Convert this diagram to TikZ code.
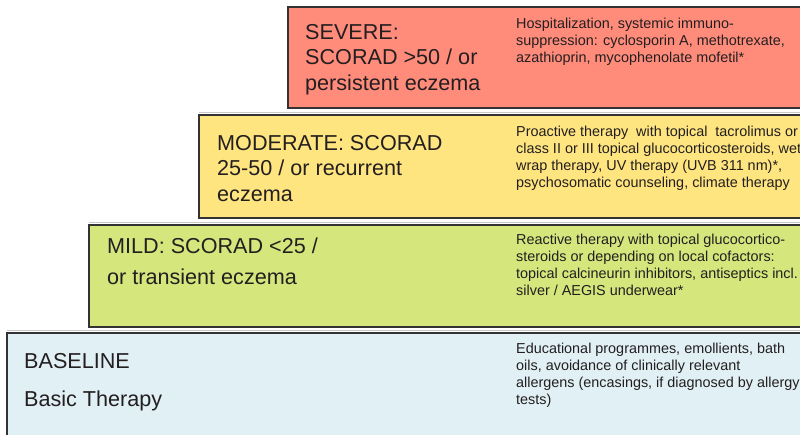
\documentclass[tikz,border=0pt]{standalone}
\usepackage{fontspec}
\setmainfont{Liberation Sans}
\definecolor{sevfill}{HTML}{FF8B7B}
\definecolor{modfill}{HTML}{FFE57F}
\definecolor{mildfill}{HTML}{D4E67C}
\definecolor{basefill}{HTML}{E1F0F4}
\definecolor{edge}{HTML}{333333}
\definecolor{shade}{HTML}{C8C8C8}
\definecolor{ink}{HTML}{231F20}
\tikzset{
  level/.style={draw=edge, line width=1.6pt},
  topshade/.style={draw=shade, line width=1pt},
  bigtext/.style={anchor=north west, inner sep=0pt, align=left, text=ink,
    font=\fontsize{21.6}{25.5}\selectfont},
  smalltext/.style={anchor=north west, inner sep=0pt, align=left, text=ink,
    font=\fontsize{14.4}{17.2}\selectfont},
}
\begin{document}
\begin{tikzpicture}[x=1pt,y=-1pt]
\useasboundingbox (0,0) rectangle (800,434);
\clip (0,0) rectangle (800,434);
% boxes
\draw[level, fill=sevfill] (288,7) rectangle (820,108);
\draw[topshade] (199,112) -- (820,112);
\draw[level, fill=modfill] (199,115) rectangle (820,218);
\draw[topshade] (89,222) -- (820,222);
\draw[level, fill=mildfill] (89,225) rectangle (820,327);
\draw[topshade] (7,330) -- (820,330);
\draw[level, fill=basefill] (7,333) rectangle (820,450);
% severe
\node[bigtext] (sevl) at (305,39-17.85) {\strut SEVERE:\\SCORAD >50 / or\\persistent eczema};
\node[smalltext] (sevr) at (516,28-12.04) {\strut Hospitalization, systemic immuno-\\suppression: cyclosporin A, methotrexate,\\azathioprin, mycophenolate mofetil*};
% moderate
\node[bigtext] (modl) at (217,150-17.85) {\strut MODERATE: SCORAD\\25-50 / or recurrent\\eczema};
\node[smalltext] (modr) at (516,136-12.04) {\strut Proactive therapy\ \ with topical\ \ tacrolimus or\\class II or III topical glucocorticosteroids, wet\\wrap therapy, UV therapy (UVB 311 nm)*,\\psychosomatic counseling, climate therapy};
% mild
\node[bigtext, font=\fontsize{21.6}{31}\selectfont] (mildl) at (107,253-21.7) {\strut MILD: SCORAD <25 /\\or transient eczema};
\node[smalltext] (mildr) at (516,244-12.04) {\strut Reactive therapy with topical glucocortico-\\steroids or depending on local cofactors:\\topical calcineurin inhibitors, antiseptics incl.\\silver / AEGIS underwear*};
% baseline
\node[bigtext, font=\fontsize{21.6}{38}\selectfont] (basel) at (24,368-26.6) {\strut BASELINE\\Basic Therapy};
\node[smalltext] (baser) at (516,353-12.04) {\strut Educational programmes, emollients, bath\\oils, avoidance of clinically relevant\\allergens (encasings, if diagnosed by allergy\\tests)};
\end{tikzpicture}
\end{document}
